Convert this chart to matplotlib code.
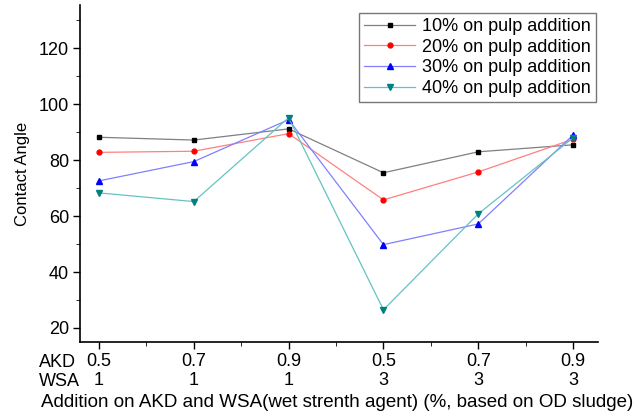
import numpy as np
import matplotlib.pyplot as plt
from matplotlib.ticker import MultipleLocator, FixedLocator

plt.rcParams['font.family'] = ['Liberation Sans', 'DejaVu Sans']

akd = ['0.5', '0.7', '0.9', '0.5', '0.7', '0.9']
wsa = ['1', '1', '1', '3', '3', '3']
pulp10 = [88.2, 87.2, 91.2, 75.5, 83.0, 85.5]
pulp20 = [82.8, 83.2, 89.5, 65.8, 75.8, 87.5]
pulp30 = [72.6, 79.5, 94.5, 49.8, 57.2, 89.0]
pulp40 = [68.3, 65.2, 95.2, 26.5, 60.8, 88.0]

x = np.arange(len(akd))

fig = plt.figure(figsize=(6.4, 4.17), dpi=100)
ax = fig.add_axes([0.125, 0.18, 0.809, 0.808])

ax.plot(x, pulp10, color='#808080', lw=0.9, marker='s', ms=3.5, mfc='black', mec='black', label='10% on pulp addition')
ax.plot(x, pulp20, color='#ff8080', lw=0.9, marker='o', ms=3.5, mfc='red', mec='red', label='20% on pulp addition')
ax.plot(x, pulp30, color='#8080ff', lw=0.9, marker='^', ms=4.5, mfc='blue', mec='blue', label='30% on pulp addition')
ax.plot(x, pulp40, color='#66c2c2', lw=0.9, marker='v', ms=4.5, mfc='#008080', mec='#008080', label='40% on pulp addition')

ax.set_xlim(-0.2, 5.26)
ax.set_ylim(15, 135.5)
ax.spines['top'].set_visible(False)
ax.spines['right'].set_visible(False)
ax.spines['left'].set_linewidth(1.2)
ax.spines['bottom'].set_linewidth(1.2)

ax.set_xticks(x)
ax.set_xticklabels([a + '\n' + w for a, w in zip(akd, wsa)], fontsize=13, linespacing=1.15)
ax.xaxis.set_minor_locator(FixedLocator(x[:-1] + 0.5))
ax.set_yticks([20, 40, 60, 80, 100, 120])
ax.yaxis.set_minor_locator(MultipleLocator(10))
ax.tick_params(axis='both', which='major', direction='out', length=5, width=1, labelsize=13, pad=3)
ax.tick_params(axis='both', which='minor', direction='out', length=3)

ax.text(-0.63, -0.035, 'AKD\nWSA', transform=ax.get_xaxis_transform(), ha='left', va='top', fontsize=13, linespacing=1.15)

ax.set_ylabel('Contact Angle', fontsize=12, labelpad=6)
ax.set_xlabel('Addition on AKD and WSA(wet strenth agent) (%, based on OD sludge)', fontsize=13.5, labelpad=0)
ax.xaxis.set_label_coords(0.496, -0.155)

ax.legend(loc='upper right', bbox_to_anchor=(0.997, 0.977), fontsize=13, frameon=True, fancybox=False,
          edgecolor='#555555', handlelength=2.8, borderpad=0.3, labelspacing=0.2, handletextpad=0.4,
          borderaxespad=0)

plt.savefig('out.png', dpi=100)
